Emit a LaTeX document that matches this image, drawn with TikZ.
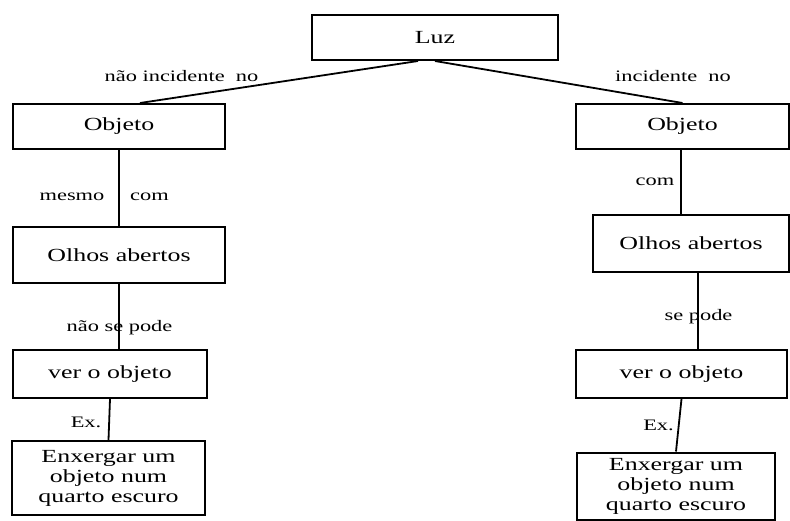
\documentclass[tikz,border=0pt]{standalone}
\usepackage{fontspec}
\setmainfont{Liberation Serif}[FakeStretch=1.4]
\usepackage{tikz}
\usetikzlibrary{positioning, calc}

\begin{document}
\begin{tikzpicture}[x=1pt, y=-1pt,
    box/.style={draw, line width=2pt, inner sep=0pt, align=center,
                font=\fontsize{18.5}{20}\selectfont},
    lbl/.style={inner sep=0pt, font=\fontsize{16}{18}\selectfont},
    link/.style={line width=1.8pt}]
    % Page frame
    \useasboundingbox (0,0) rectangle (790,520);

    % Top box
    \node[box, minimum width=246pt, minimum height=45pt] (luz) at (435,37.5) {Luz};

    % Left branch boxes
    \node[box, minimum width=212pt, minimum height=45pt] (objL) at (119,126.5) {Objeto};
    \node[box, minimum width=212pt, minimum height=56pt] (olhosL) at (119,255) {Olhos abertos};
    \node[box, minimum width=194pt, minimum height=48pt] (verL) at (110,374) {ver o objeto};
    \node[box, minimum width=193pt, minimum height=74pt] (enxL) at (108.5,478)
        {Enxergar um\\objeto num\\quarto escuro};

    % Right branch boxes
    \node[box, minimum width=213pt, minimum height=45pt] (objR) at (682.5,126.5) {Objeto};
    \node[box, minimum width=196pt, minimum height=57pt] (olhosR) at (691,243.5) {Olhos abertos};
    \node[box, minimum width=211pt, minimum height=48pt] (verR) at (681.5,374) {ver o objeto};
    \node[box, minimum width=198pt, minimum height=67pt] (enxR) at (676,486)
        {Enxergar um\\objeto num\\quarto escuro};

    % Labels
    \node[lbl] (tNaoInc) at (181.5,76) {não incidente\ \ no};
    \node[lbl] (tInc) at (673,76) {incidente\ \ no};
    \node[lbl] (tMesmo) at (72,197) {mesmo};
    \node[lbl] (tComL) at (149.5,197) {com};
    \node[lbl] (tNaoPode) at (119.5,328) {não se pode};
    \node[lbl] (tExL) at (86,422) {Ex.};
    \node[lbl] (tComR) at (655,182) {com};
    \node[lbl] (tPode) at (698.5,317) {se pode};
    \node[lbl] (tExR) at (658.5,425) {Ex.};

    % Connectors from the top box
    \draw[link] ([xshift=-17pt]luz.south) -- ([xshift=21pt]objL.north);
    \draw[link] (luz.south) -- (objR.north);

    % Left chain
    \draw[link] (objL.south) -- (olhosL.north);
    \draw[link] (olhosL.south) -- (olhosL.south |- verL.north);
    \draw[link] (verL.south) -- (enxL.north);

    % Right chain
    \draw[link] ([xshift=-1.5pt]objR.south) -- ([xshift=-1.5pt]objR.south |- olhosR.north);
    \draw[link] ([xshift=7pt]olhosR.south) -- ([xshift=7pt]olhosR.south |- verR.north);
    \draw[link] (verR.south) -- (enxR.north);
\end{tikzpicture}
\end{document}
